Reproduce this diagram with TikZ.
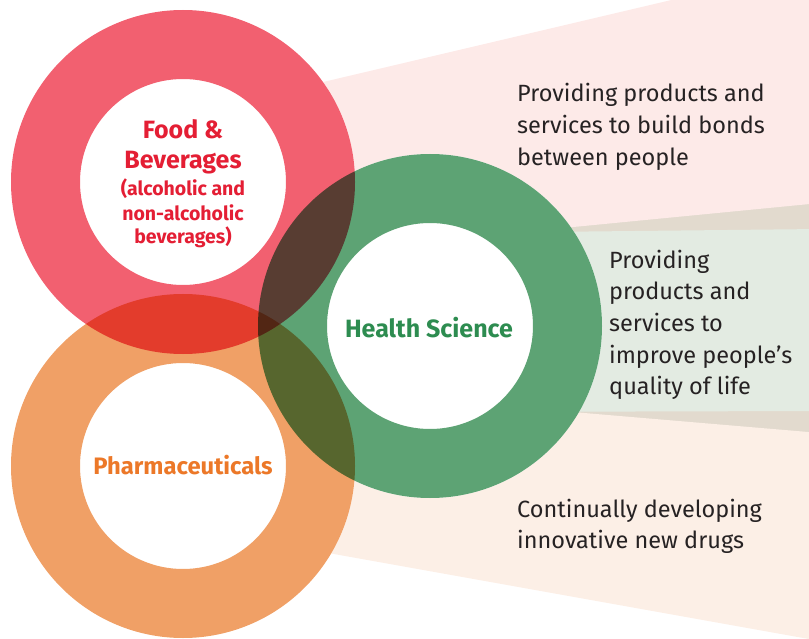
\documentclass[tikz,border=0pt]{standalone}
\usepackage{fontspec}
\setmainfont{Fira Sans}

\definecolor{ringred}{RGB}{242,96,112}
\definecolor{ringorange}{RGB}{240,160,102}
\definecolor{ringgreen}{RGB}{93,163,116}
\definecolor{textred}{RGB}{228,30,52}
\definecolor{textorange}{RGB}{236,120,40}
\definecolor{textgreen}{RGB}{45,140,80}
\definecolor{textdark}{RGB}{38,34,35}
\definecolor{fanpink}{RGB}{253,234,232}
\definecolor{fanpeach}{RGB}{252,239,230}
\definecolor{fangreen}{RGB}{227,235,226}
\definecolor{fanbeige}{RGB}{226,218,206}

\newcommand\ringsub{\fontsize{19.5}{23}\selectfont}

\tikzset{
  ringlabel/.style={align=center,anchor=base,inner sep=0pt,font=\bfseries\fontsize{25}{28}\selectfont},
  fantext/.style={align=left,anchor=base west,inner sep=0pt,text=textdark,
    font=\fontsize{23.5}{31.7}\selectfont},
}

\begin{document}
\begin{tikzpicture}[x=1pt,y=-1pt]

\useasboundingbox (0,0) rectangle (809,639);
\clip (0,0) rectangle (809,639);

\coordinate (food) at (183,182);
\coordinate (pharma) at (183,466);
\coordinate (health) at (430,326);

% fans behind the rings
\fill[fanbeige] (450,190) rectangle (820,450);
\fill[fanpink] (183,115) -- (820,-35) -- (820,203) -- (183,265) -- cycle;
\fill[fanpeach] (183,379) -- (820,433) -- (820,641) -- (183,527) -- cycle;
\fill[fangreen] (450,233) -- (820,229) -- (820,411) -- (450,412) -- cycle;

% white base, then the rings
\foreach \c in {food,pharma,health}
  \fill[white] (\c) circle (172pt);
\begin{scope}[blend group=multiply]
\fill[ringred,even odd rule] (food) circle (172pt) circle (103pt);
\fill[ringorange,even odd rule] (pharma) circle (172pt) circle (103pt);
\fill[ringgreen,even odd rule] (health) circle (172pt) circle (103pt);
\end{scope}

% labels in the rings (anchor = last baseline)
\node[ringlabel,text=textred] (foodlabel) at (183,244)
  {Food \&\\[2pt]Beverages\\[-1pt]
   \ringsub(alcoholic and\\[-4pt]\ringsub non-alcoholic\\[-4pt]\ringsub beverages)};
\node[ringlabel,text=textgreen] (healthlabel) at (429,337) {Health Science};
\node[ringlabel,text=textorange,font=\bfseries\fontsize{23.8}{28}\selectfont]
  (pharmalabel) at (183,474) {Pharmaceuticals};

% texts on the fans
\node[fantext] (bonds) at (517,165.4)
  {Providing products and\\services to build bonds\\between people};
\node[fantext] (quality) at (609,394.8)
  {Providing\\products and\\services to\\improve people’s\\quality of life};
\node[fantext] (drugs) at (517,548.7)
  {Continually developing\\innovative new drugs};

\end{tikzpicture}
\end{document}
